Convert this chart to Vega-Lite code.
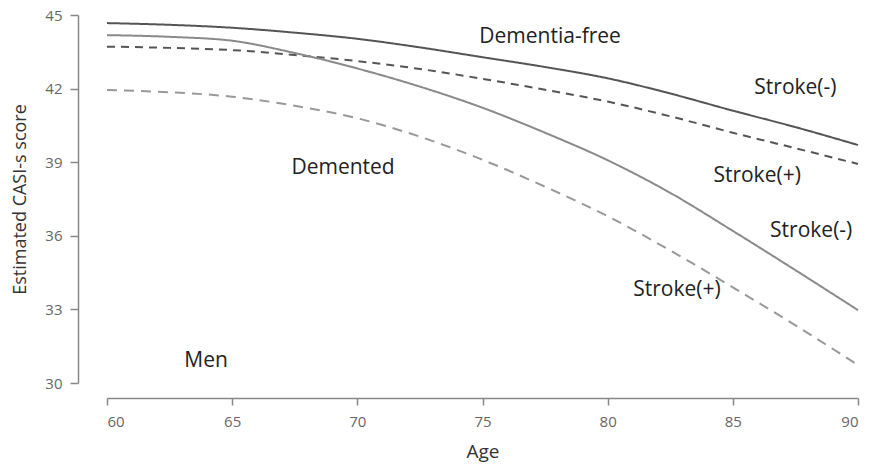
{
  "$schema": "https://vega.github.io/schema/vega-lite/v6.json",
  "width": 751,
  "height": 368,
  "autosize": {"type": "none"},
  "padding": {"left": 107, "top": 15, "right": 12, "bottom": 87},
  "background": "white",
  "config": {"view": {"stroke": null}, "font": "Open Sans"},
  "layer": [
    {
      "data": {"values": [
        {"series": "DF_minus", "age": 60, "score": 44.67},
        {"series": "DF_minus", "age": 62.5, "score": 44.6},
        {"series": "DF_minus", "age": 65, "score": 44.48},
        {"series": "DF_minus", "age": 67.5, "score": 44.28},
        {"series": "DF_minus", "age": 70, "score": 44.03},
        {"series": "DF_minus", "age": 72.5, "score": 43.68},
        {"series": "DF_minus", "age": 75, "score": 43.28},
        {"series": "DF_minus", "age": 77.5, "score": 42.88},
        {"series": "DF_minus", "age": 80, "score": 42.42},
        {"series": "DF_minus", "age": 82.5, "score": 41.8},
        {"series": "DF_minus", "age": 85, "score": 41.1},
        {"series": "DF_minus", "age": 87.5, "score": 40.43},
        {"series": "DF_minus", "age": 90, "score": 39.7},
        {"series": "DF_plus", "age": 60, "score": 43.71},
        {"series": "DF_plus", "age": 62.5, "score": 43.66},
        {"series": "DF_plus", "age": 65, "score": 43.57},
        {"series": "DF_plus", "age": 67.5, "score": 43.37},
        {"series": "DF_plus", "age": 70, "score": 43.12},
        {"series": "DF_plus", "age": 72.5, "score": 42.8},
        {"series": "DF_plus", "age": 75, "score": 42.4},
        {"series": "DF_plus", "age": 77.5, "score": 41.95},
        {"series": "DF_plus", "age": 80, "score": 41.47},
        {"series": "DF_plus", "age": 82.5, "score": 40.87},
        {"series": "DF_plus", "age": 85, "score": 40.2},
        {"series": "DF_plus", "age": 87.5, "score": 39.57},
        {"series": "DF_plus", "age": 90, "score": 38.93},
        {"series": "Dem_minus", "age": 60, "score": 44.18},
        {"series": "Dem_minus", "age": 62.5, "score": 44.11},
        {"series": "Dem_minus", "age": 65, "score": 43.95},
        {"series": "Dem_minus", "age": 67.5, "score": 43.45},
        {"series": "Dem_minus", "age": 70, "score": 42.82},
        {"series": "Dem_minus", "age": 72.5, "score": 42.08},
        {"series": "Dem_minus", "age": 75, "score": 41.22},
        {"series": "Dem_minus", "age": 77.5, "score": 40.2},
        {"series": "Dem_minus", "age": 80, "score": 39.08},
        {"series": "Dem_minus", "age": 82.5, "score": 37.75},
        {"series": "Dem_minus", "age": 85, "score": 36.2},
        {"series": "Dem_minus", "age": 87.5, "score": 34.6},
        {"series": "Dem_minus", "age": 90, "score": 32.97},
        {"series": "Dem_plus", "age": 60, "score": 41.94},
        {"series": "Dem_plus", "age": 62.5, "score": 41.85},
        {"series": "Dem_plus", "age": 65, "score": 41.67},
        {"series": "Dem_plus", "age": 67.5, "score": 41.3},
        {"series": "Dem_plus", "age": 70, "score": 40.79},
        {"series": "Dem_plus", "age": 72.5, "score": 40.04},
        {"series": "Dem_plus", "age": 75, "score": 39.1},
        {"series": "Dem_plus", "age": 77.5, "score": 38.0},
        {"series": "Dem_plus", "age": 80, "score": 36.8},
        {"series": "Dem_plus", "age": 82.5, "score": 35.4},
        {"series": "Dem_plus", "age": 85, "score": 33.9},
        {"series": "Dem_plus", "age": 87.5, "score": 32.35},
        {"series": "Dem_plus", "age": 90, "score": 30.73}
      ]},
      "mark": {"type": "line", "interpolate": "monotone", "strokeWidth": 2},
      "encoding": {
        "x": {
          "field": "age", "type": "quantitative",
          "scale": {"domain": [60, 90], "nice": false, "zero": false},
          "axis": {
            "title": "Age", "values": [60, 65, 70, 75, 80, 85, 90],
            "grid": false, "offset": 15, "tickSize": 7, "labelPadding": 9,
            "domainColor": "#888", "tickColor": "#888", "domainWidth": 1.5, "tickWidth": 1.5,
            "labelColor": "#666", "labelFontSize": 15, "labelFont": "Open Sans",
            "titleColor": "#333", "titleFontSize": 19, "titleFontWeight": "normal", "titleFont": "Open Sans", "titlePadding": 13
          }
        },
        "y": {
          "field": "score", "type": "quantitative",
          "scale": {"domain": [30, 45], "nice": false, "zero": false},
          "axis": {
            "title": "Estimated CASI-s score", "values": [30, 33, 36, 39, 42, 45],
            "grid": false, "offset": 29, "tickSize": 8, "labelPadding": 8,
            "domainColor": "#888", "tickColor": "#888", "domainWidth": 1.5, "tickWidth": 1.5,
            "labelColor": "#666", "labelFontSize": 15, "labelFont": "Open Sans",
            "titleColor": "#333", "titleFontSize": 18, "titleFontWeight": "normal", "titleFont": "Open Sans", "titlePadding": 15
          }
        },
        "detail": {"field": "series"},
        "color": {
          "field": "series", "type": "nominal", "legend": null,
          "scale": {"domain": ["DF_minus", "DF_plus", "Dem_minus", "Dem_plus"], "range": ["#555555", "#555555", "#8a8a8a", "#999999"]}
        },
        "strokeDash": {
          "field": "series", "type": "nominal", "legend": null,
          "scale": {"domain": ["DF_minus", "DF_plus", "Dem_minus", "Dem_plus"], "range": [[1, 0], [8, 6], [1, 0], [10, 7]]}
        }
      }
    },
    {
      "data": {"values": [
        {"label": "Dementia-free", "age": 77.7, "score": 44.1},
        {"label": "Stroke(-)", "age": 87.5, "score": 42.02},
        {"label": "Stroke(+)", "age": 85.97, "score": 38.44},
        {"label": "Demented", "age": 69.43, "score": 38.76},
        {"label": "Stroke(-)", "age": 88.13, "score": 36.19},
        {"label": "Stroke(+)", "age": 82.77, "score": 33.79},
        {"label": "Men", "age": 63.96, "score": 30.9}
      ]},
      "mark": {"type": "text", "fontSize": 21, "color": "#222", "font": "Open Sans", "align": "center", "baseline": "middle"},
      "encoding": {
        "x": {"field": "age", "type": "quantitative"},
        "y": {"field": "score", "type": "quantitative"},
        "text": {"field": "label"}
      }
    }
  ]
}
